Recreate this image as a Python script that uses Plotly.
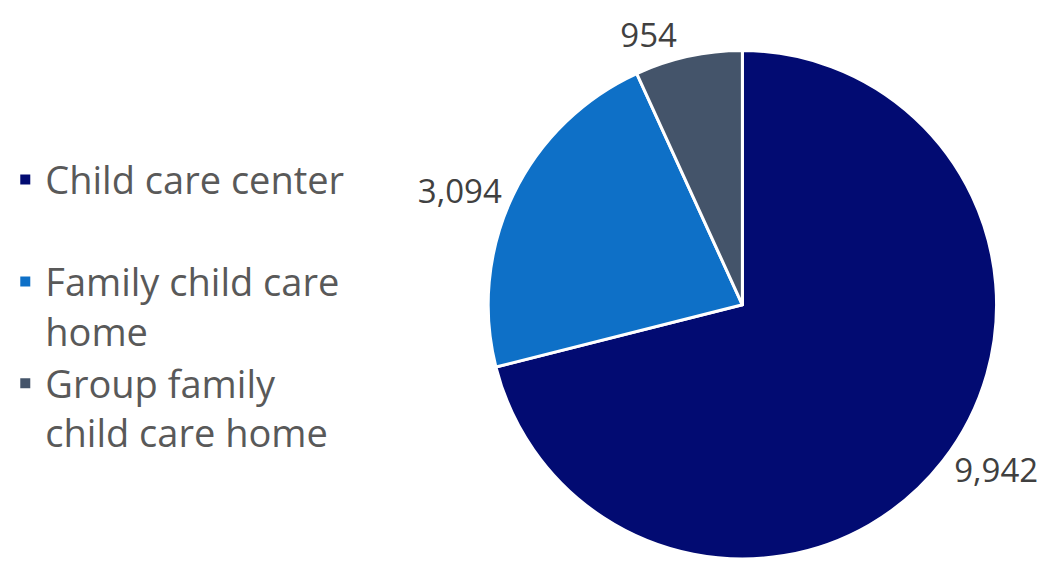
import plotly.graph_objects as go

categories = ["Child care center<br>\u00a0", "Family child care<br>home", "Group family<br>child care home"]
values = [9942, 3094, 954]
colors = ["#020B72", "#0E70C7", "#44546A"]

fig = go.Figure(go.Pie(
    labels=categories,
    values=values,
    sort=False,
    direction="clockwise",
    rotation=0,
    marker=dict(colors=colors, line=dict(color="white", width=3)),
    textposition="outside",
    texttemplate="%{value:,}",
    textfont=dict(family="Open Sans", size=33, color="#404040"),
    hoverinfo="label+value",
    domain=dict(x=[0.4600, 0.9460], y=[0.0018, 0.9096]),
    showlegend=True,
))

fig.update_layout(
    width=1056, height=564,
    margin=dict(l=0, r=0, t=0, b=0),
    paper_bgcolor="white",
    plot_bgcolor="white",
    legend=dict(
        x=0.005, y=0.735, xanchor="left", yanchor="top",
        font=dict(family="Open Sans", size=38, color="#595959"),
        valign="top",
        itemsizing="constant",
        traceorder="normal",
    ),
)

fig.write_html("out.html")
